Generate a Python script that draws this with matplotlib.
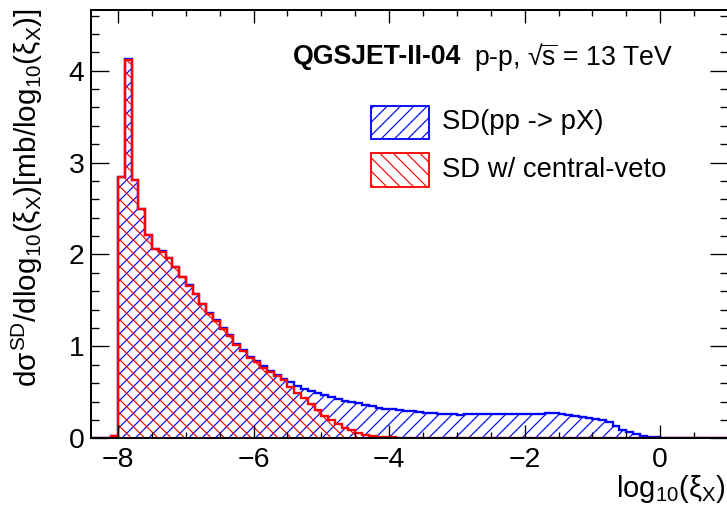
import numpy as np
import matplotlib
matplotlib.use("Agg")
import matplotlib.pyplot as plt
from matplotlib.patches import Rectangle
from matplotlib.ticker import MultipleLocator

plt.rcParams["font.family"] = ["Liberation Sans", "DejaVu Sans"]
plt.rcParams["mathtext.fontset"] = "custom"
plt.rcParams["mathtext.rm"] = "Liberation Sans"
plt.rcParams["mathtext.it"] = "Liberation Sans"
plt.rcParams["mathtext.bf"] = "Liberation Sans:bold"
plt.rcParams["hatch.linewidth"] = 0.7

# histogram binning: log10(xi_X) from -8.4 to 1.0, width 0.1
bin_lo = -8.4
bin_hi = 1.0

# SD(pp -> pX)
sd_all = [
    0, 0, 0, 0.03,
    2.845, 4.125, 2.815, 2.495, 2.215, 2.065, 2.035, 1.965, 1.865, 1.755,
    1.665, 1.575, 1.465, 1.36, 1.29, 1.2, 1.12, 1.03, 0.96, 0.885,
    0.845, 0.785, 0.735, 0.69, 0.645, 0.61, 0.57, 0.532, 0.51, 0.49,
    0.475, 0.453, 0.428, 0.41, 0.395, 0.38, 0.36, 0.349, 0.334, 0.323,
    0.316, 0.31, 0.30, 0.293, 0.286, 0.28, 0.272, 0.266, 0.262, 0.26,
    0.258, 0.26, 0.26, 0.26, 0.262, 0.262, 0.26, 0.26, 0.262, 0.264,
    0.264, 0.265, 0.266, 0.27, 0.27, 0.262, 0.254, 0.243, 0.235, 0.224,
    0.213, 0.2, 0.173, 0.134, 0.09, 0.065, 0.043, 0.025, 0.018, 0.012,
    0.005, 0.002, 0, 0, 0, 0, 0, 0, 0, 0,
]

# SD with central veto
sd_veto = [
    0, 0, 0, 0.03,
    2.84, 4.12, 2.81, 2.49, 2.21, 2.06, 2.03, 1.96, 1.86, 1.75,
    1.66, 1.57, 1.46, 1.35, 1.28, 1.19, 1.11, 1.02, 0.95, 0.87,
    0.83, 0.77, 0.72, 0.68, 0.63, 0.555, 0.49, 0.435, 0.373, 0.308,
    0.243, 0.20, 0.152, 0.116, 0.09, 0.061, 0.04, 0.025, 0.018, 0.015,
    0.01, 0.008, 0.006, 0.004, 0.003, 0.002, 0.002, 0.001, 0.001, 0,
    0, 0, 0, 0, 0, 0, 0, 0, 0, 0,
    0, 0, 0, 0, 0, 0, 0, 0, 0, 0,
    0, 0, 0, 0, 0, 0, 0, 0, 0, 0,
    0, 0, 0, 0, 0, 0, 0, 0, 0, 0,
]

labels = ["SD(pp -> pX)", "SD w/ central-veto"]

edges = np.linspace(bin_lo, bin_hi, len(sd_all) + 1)

W, H, DPI = 727, 511, 120
fig = plt.figure(figsize=(W / DPI, H / DPI), dpi=DPI)
x0, x1 = 91, 727.9
ytop, ybot = 10, 438.3
ax = fig.add_axes([x0 / W, (H - ybot) / H, (x1 - x0) / W, (ybot - ytop) / H])

ax.stairs(sd_all, edges, fill=True, facecolor="none", edgecolor="blue",
          hatch="///", linewidth=1.4)
ax.stairs(sd_veto, edges, fill=True, facecolor="none", edgecolor="red",
          hatch="\\\\\\", linewidth=1.4)

ax.set_xlim(bin_lo, bin_hi)
ax.set_ylim(0, 4.66)

ax.xaxis.set_major_locator(MultipleLocator(2))
ax.xaxis.set_minor_locator(MultipleLocator(0.5))
ax.yaxis.set_major_locator(MultipleLocator(1))
ax.yaxis.set_minor_locator(MultipleLocator(0.2))
ax.tick_params(which="both", direction="in", top=True, right=True,
               width=0.8, labelsize=17)
ax.tick_params(axis="x", which="major", length=7.8, pad=5)
ax.tick_params(axis="x", which="minor", length=3.6)
ax.tick_params(axis="y", which="major", length=10.6, pad=4)
ax.tick_params(axis="y", which="minor", length=5)
for s in ax.spines.values():
    s.set_linewidth(1.2)

# title text
ax.text(0.317, 0.890, "QGSJET-II-04", transform=ax.transAxes,
        fontsize=16, fontweight="bold", va="center", ha="left")
ax.text(0.601, 0.890, "p-p, \u221a" + r"$\overline{\rm s}$" + " = 13 TeV",
        transform=ax.transAxes, fontsize=16, va="center", ha="left")

# legend
for yb, col, htch, lab in [(0.699, "blue", "///", labels[0]),
                           (0.5874, "red", "\\\\\\", labels[1])]:
    ax.add_patch(Rectangle((0.439, yb), 0.092, 0.0778, transform=ax.transAxes,
                           facecolor="none", edgecolor=col, hatch=htch,
                           linewidth=1.1))
    ax.text(0.5516, yb + 0.0389, lab, transform=ax.transAxes,
            fontsize=16.5, va="center", ha="left")

fig.text(27 / W, (H - 8) / H,
         r"d$\sigma^{\rm SD}$/dlog$_{\rm 10}$($\xi_{\rm X}$)[mb/log$_{\rm 10}$($\xi_{\rm X}$)]",
         rotation=90, ha="center", va="top", fontsize=17.8)
fig.text(726 / W, (H - 497) / H, r"log$_{\rm 10}$($\xi_{\rm X}$)",
         ha="right", va="baseline", fontsize=17.5)

fig.savefig("out.png", dpi=DPI)
